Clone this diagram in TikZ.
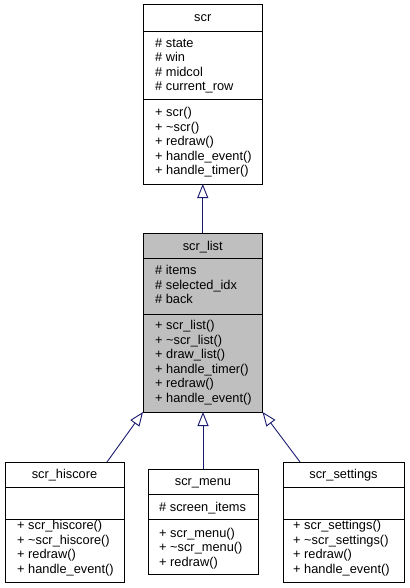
\documentclass[tikz,border=0pt]{standalone}
\usepackage{fontspec}
\setmainfont{Liberation Sans}
\usetikzlibrary{arrows.meta,calc}
\definecolor{edgeblue}{HTML}{191970}
\definecolor{listgrey}{HTML}{BFBFBF}
\tikzset{
  cls/.style={draw=black, line width=1pt, inner sep=0pt, outer sep=0pt, anchor=north west},
  txt/.style={anchor=base west, inner sep=0pt, font=\fontsize{12.8}{14.5}\selectfont},
  ttl/.style={anchor=base, inner sep=0pt, font=\fontsize{12.8}{14.5}\selectfont},
  inh/.style={draw=edgeblue, line width=0.9pt, -{Triangle[open, length=14pt, width=11pt, line width=0.9pt]}},
  divider/.style={draw=black, line width=1pt}
}
\newcommand\txtlines[4]{%
  \foreach \t [count=\i] in {#4}
    \node[txt] (#1\i) at ({#2},{#3+(\i-1)*14.5}) {\t};}
\begin{document}
\begin{tikzpicture}[x=1pt,y=-1pt]
\useasboundingbox (0,0) rectangle (409,588);
% scr
\node[cls, minimum width=119.5pt, minimum height=179pt] (scr) at (143,5) {};
\draw[divider] (143,32) -- (262.5,32);
\draw[divider] (143,100) -- (262.5,100);
\node[ttl] (scrT) at (202.75,22) {scr};
\txtlines{scrA}{155}{47.5}{\# state,\# win,\# midcol,\# current\_row}
\txtlines{scrM}{155}{117}{+ scr(),+ \textasciitilde scr(),+ redraw(),+ handle\_event(),+ handle\_timer()}
% scr_list
\node[cls, fill=listgrey, minimum width=119.5pt, minimum height=179pt] (list) at (143,233) {};
\draw[divider] (143,258) -- (262.5,258);
\draw[divider] (143,314) -- (262.5,314);
\node[ttl] (listT) at (202.75,250) {scr\_list};
\txtlines{listA}{155}{274.5}{\# items,\# selected\_idx,\# back}
\txtlines{listM}{155}{329.5}{+ scr\_list(),+ \textasciitilde scr\_list(),+ draw\_list(),+ handle\_timer(),+ redraw(),+ handle\_event()}
% scr_hiscore
\node[cls, minimum width=119pt, minimum height=120pt] (hi) at (5,462) {};
\draw[divider] (5,487) -- (124,487);
\draw[divider] (5,519) -- (124,519);
\node[ttl] (hiT) at (64.5,478) {scr\_hiscore};
\txtlines{hiM}{17}{529.5}{+ scr\_hiscore(),+ \textasciitilde scr\_hiscore(),+ redraw(),+ handle\_event()}
% scr_menu
\node[cls, minimum width=110pt, minimum height=105pt] (menu) at (148,469) {};
\draw[divider] (148,494) -- (258,494);
\draw[divider] (148,519) -- (258,519);
\node[ttl] (menuT) at (203,485.5) {scr\_menu};
\txtlines{menuA}{159}{511}{\# screen\_items}
\txtlines{menuM}{159}{537}{+ scr\_menu(),+ \textasciitilde scr\_menu(),+ redraw()}
% scr_settings
\node[cls, minimum width=121pt, minimum height=120pt] (set) at (283,462) {};
\draw[divider] (283,487) -- (404,487);
\draw[divider] (283,519) -- (404,519);
\node[ttl] (setT) at (343.5,478) {scr\_settings};
\txtlines{setM}{293}{529.5}{+ scr\_settings(),+ \textasciitilde scr\_settings(),+ redraw(),+ handle\_event()}
% edges
\draw[inh] (list.north) -- (scr.south);
\draw[inh] ($(hi.north east)+(-17,0)$) -- (list.south west);
\draw[inh] (menu.north) -- (menu.north |- list.south);
\draw[inh] ($(set.north west)+(17,0)$) -- (list.south east);
\end{tikzpicture}
\end{document}
